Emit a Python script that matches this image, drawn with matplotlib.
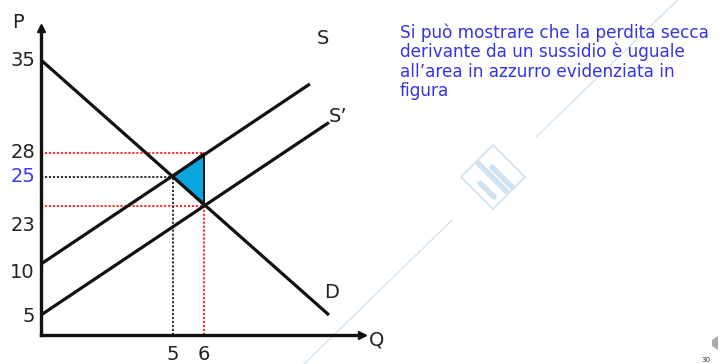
import numpy as np
import matplotlib
matplotlib.use("Agg")
import matplotlib.pyplot as plt
from matplotlib.patches import Polygon

# ---------------- data ----------------
q_demand = [0, 10.6]
p_demand = [35, 5]
q_supply = [0, 9.9]
p_supply = [10, 33.2]
q_supply_sub = [0, 10.6]
p_supply_sub = [5, 30.3]

q_eq, p_eq = 5, 25          # equilibrium without subsidy
q_sub = 6                   # quantity with subsidy
p_buyer, p_seller = 23, 28  # prices with subsidy

y_tick_values = [35, 28, 25, 23, 10, 5]
y_tick_labels = ["35", "28", "25", "23", "10", "5"]
x_tick_values = [5, 6]
x_tick_labels = ["5", "6"]

note = ("Si può mostrare che la perdita secca\n"
        "derivante da un sussidio è uguale\n"
        "all’area in azzurro evidenziata in\n"
        "figura")

# ---------------- schematic (not-to-scale) axis scales ----------------
y_knots_val = [0, 5, 10, 23, 25, 28, 35, 38]
y_knots_pos = [0, 20, 71, 129.5, 158, 182, 275, 312]
x_knots_val = [0, 5, 6, 12]
x_knots_pos = [0, 132, 163, 326]

def fwd_y(v):
    return np.interp(v, y_knots_val, y_knots_pos)
def inv_y(h):
    return np.interp(h, y_knots_pos, y_knots_val)
def fwd_x(v):
    return np.interp(v, x_knots_val, x_knots_pos)
def inv_x(h):
    return np.interp(h, x_knots_pos, x_knots_val)

W, H = 721, 364
fig = plt.figure(figsize=(W / 100, H / 100), dpi=100)
fig.patch.set_facecolor("white")
plt.rcParams['font.family'] = ['DejaVu Sans']

# overlay in pixel coordinates for decorations / annotations
ov = fig.add_axes([0, 0, 1, 1], zorder=0)
ov.set_xlim(0, W)
ov.set_ylim(H, 0)
ov.axis("off")
ov.patch.set_alpha(0)

# watermark
wm = "#cfe2f1"
ov.plot([690, 536], [-12, 137], color=wm, lw=0.9)
ov.plot([452, 300], [220, 368], color=wm, lw=0.9)
ov.add_patch(Polygon([[493, 145], [525, 177], [493, 209], [461, 177]],
                     closed=True, fill=False, ec=wm, lw=1.2, joinstyle="round"))
ov.plot([480, 494], [183, 197], color=wm, lw=4, solid_capstyle="round")
ov.plot([478, 506], [163, 191], color=wm, lw=4, solid_capstyle="round")
ov.plot([492, 512], [167, 187], color=wm, lw=4, solid_capstyle="round")

# page number
ov.text(706, 360, "30", fontsize=5, color="#333333", ha="center", va="center")
ov.add_patch(Polygon([[712, 340], [718, 336], [718, 350], [712, 346]],
                     closed=True, fc="#aaaaaa", ec="none"))

# main axes
ax = fig.add_axes([41 / W, (H - 335) / H, 326 / W, 312 / H], zorder=1)
ax.set_xscale("function", functions=(fwd_x, inv_x))
ax.set_yscale("function", functions=(fwd_y, inv_y))
ax.set_xlim(0, 12)
ax.set_ylim(0, 38)
ax.patch.set_alpha(0)
for s in ["top", "right"]:
    ax.spines[s].set_visible(False)
for s in ["left", "bottom"]:
    ax.spines[s].set_linewidth(2.4)
    ax.spines[s].set_color("#111111")
    ax.spines[s].set_capstyle("projecting")
ax.set_bounds = None
ax.spines["bottom"].set_bounds(0, inv_x(322))
ax.spines["left"].set_bounds(0, inv_y(308))
ax.plot(1 - 5 / 326, 0, ">", color="#111111", ms=6, transform=ax.transAxes, clip_on=False)
ax.plot(0, 1 - 5 / 312, "^", color="#111111", ms=6, transform=ax.transAxes, clip_on=False)
ax.set_xticks([])
ax.set_yticks([])

red = "#ff1a1a"
dot = (0, (1.2, 1.0))
# guide lines
ax.plot([0, q_sub], [p_seller, p_seller], color=red, lw=1.3, ls=dot, clip_on=False)
ax.plot([0, q_sub], [p_buyer, p_buyer], color=red, lw=1.3, ls=dot, clip_on=False)
ax.plot([q_sub, q_sub], [0, p_seller], color=red, lw=1.3, ls=dot, clip_on=False)
ax.plot([0, q_eq], [p_eq, p_eq], color="#222222", lw=1.3, ls=dot, clip_on=False)
ax.plot([q_eq, q_eq], [0, p_eq], color="#222222", lw=1.3, ls=dot, clip_on=False)

# deadweight loss triangle
ax.fill([q_eq, q_sub, q_sub], [p_eq, p_seller, p_buyer],
        facecolor="#0aa4de", edgecolor="#111111", lw=1.4, zorder=3)

# curves
ax.plot(q_demand, p_demand, color="#111111", lw=2.3, zorder=4, clip_on=False,
        solid_capstyle="butt")
ax.plot(q_supply, p_supply, color="#111111", lw=2.3, zorder=4, clip_on=False,
        solid_capstyle="butt")
ax.plot(q_supply_sub, p_supply_sub, color="#111111", lw=2.3, zorder=4, clip_on=False,
        solid_capstyle="butt")

# tick labels
y_label_shift_px = [0, 0, 0, -20, -9, -2]
for v, lab, dy in zip(y_tick_values, y_tick_labels, y_label_shift_px):
    ax.annotate(lab, xy=(0, v), xycoords=("axes fraction", "data"),
                xytext=(-6 * 0.72, dy * 0.72), textcoords="offset points",
                ha="right", va="center", fontsize=14,
                color="#3a3aee" if lab == "25" else "#222222")
for v, lab in zip(x_tick_values, x_tick_labels):
    ax.annotate(lab, xy=(v, 0), xycoords=("data", "axes fraction"),
                xytext=(0, -20 * 0.72), textcoords="offset points",
                ha="center", va="center", fontsize=14, color="#222222")

# letters
lk = dict(fontsize=14, color="#222222", ha="center", va="center")
ov.text(18, 22, "P", **lk)
ov.text(377, 340, "Q", **lk)
ov.text(323, 39, "S", **lk)
ov.text(338, 117, "S’", **lk)
ov.text(332, 292, "D", **lk)

# note
ov.text(400, 23, note, fontsize=12.2, color="#3434e2", ha="left", va="top",
        linespacing=1.1)

fig.savefig("out.png", dpi=100, facecolor="white")
